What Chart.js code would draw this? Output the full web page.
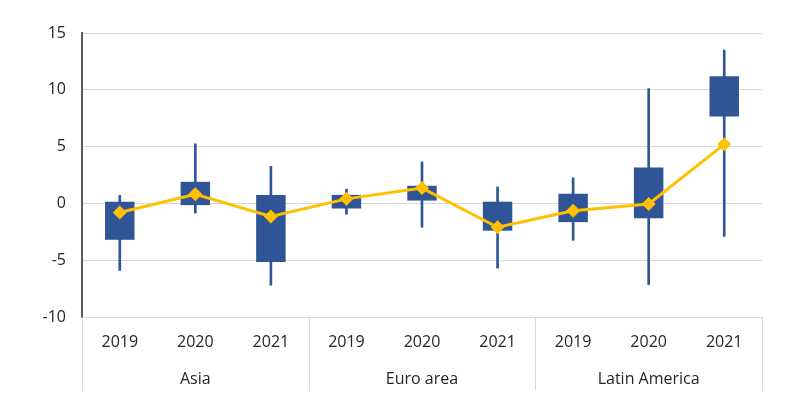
<!DOCTYPE html>
<html>
<head>
<meta charset="utf-8">
<script src="https://cdn.jsdelivr.net/npm/chart.js@4/dist/chart.umd.min.js"></script>
<style>
  html, body { margin: 0; padding: 0; background: #fff; }
  #wrap { width: 787px; height: 398px; position: relative; }
</style>
</head>
<body>
<div id="wrap"><canvas id="c" width="787" height="398"></canvas></div>
<script>
const groups = ['Asia', 'Euro area', 'Latin America'];
const years = ['2019', '2020', '2021'];
const boxLow     = [-3.2, -0.15, -5.15, -0.45, 0.25, -2.4, -1.65, -1.3, 7.65];
const boxHigh    = [0.15, 1.9, 0.75, 0.75, 1.55, 0.15, 0.85, 3.15, 11.2];
const whiskerLow = [-5.9, -0.85, -7.2, -0.95, -2.1, -5.7, -3.25, -7.15, -2.9];
const whiskerHigh= [0.7, 5.25, 3.25, 1.25, 3.65, 1.45, 2.25, 10.1, 13.5];
const median     = [-0.8, 0.8, -1.15, 0.4, 1.35, -2.1, -0.65, -0.05, 5.2];
const yTicks = [-10, -5, 0, 5, 10, 15];

const labels = [];
groups.forEach(() => years.forEach(y => labels.push(y)));

const FONT = '"Open Sans", "Liberation Sans", Arial, sans-serif';
const BLUE = '#2F5597';
const GOLD = '#FFC000';
const GRID = '#D9D9D9';
const TEXT = '#262626';

const groupPlugin = {
  id: 'groupLabels',
  afterDraw(chart) {
    const ctx = chart.ctx;
    const x = chart.scales.x;
    const area = chart.chartArea;
    const n = years.length;
    const step = (x.getPixelForValue(1) - x.getPixelForValue(0));
    ctx.save();
    ctx.strokeStyle = GRID;
    ctx.lineWidth = 1;
    for (let g = 0; g <= groups.length; g++) {
      let px;
      if (g === 0) px = area.left;
      else if (g === groups.length) px = area.right;
      else px = x.getPixelForValue(g * n) - step / 2;
      px = Math.round(px) + 0.5;
      ctx.beginPath();
      ctx.moveTo(px, area.bottom);
      ctx.lineTo(px, area.bottom + 73);
      ctx.stroke();
    }
    ctx.fillStyle = TEXT;
    ctx.font = '16px ' + FONT;
    ctx.textAlign = 'center';
    ctx.textBaseline = 'middle';
    groups.forEach((gname, g) => {
      const cx = x.getPixelForValue(g * n + (n - 1) / 2);
      ctx.fillText(gname, cx, area.bottom + 62);
    });
    ctx.restore();
  }
};

new Chart(document.getElementById('c'), {
  data: {
    labels: labels,
    datasets: [
      {
        type: 'line',
        data: median,
        borderColor: GOLD,
        backgroundColor: GOLD,
        borderWidth: 3,
        pointStyle: 'rectRot',
        pointRadius: 7,
        pointHoverRadius: 7,
        pointBackgroundColor: GOLD,
        pointBorderColor: GOLD,
        pointBorderWidth: 0,
        tension: 0,
        order: 0
      },
      {
        type: 'bar',
        data: boxLow.map((v, i) => [v, boxHigh[i]]),
        backgroundColor: BLUE,
        borderWidth: 0,
        grouped: false,
        categoryPercentage: 1,
        barPercentage: 0.39,
        order: 1
      },
      {
        type: 'bar',
        data: whiskerLow.map((v, i) => [v, whiskerHigh[i]]),
        backgroundColor: BLUE,
        borderWidth: 0,
        grouped: false,
        barThickness: 2,
        order: 2
      }
    ]
  },
  options: {
    responsive: false,
    animation: false,
    devicePixelRatio: 1,
    layout: { padding: { left: 0, top: 33, right: 25, bottom: 0 } },
    plugins: { legend: { display: false }, tooltip: { enabled: false } },
    scales: {
      x: {
        type: 'category',
        offset: true,
        grid: { display: false, drawTicks: false },
        border: { display: false },
        ticks: { color: TEXT, font: { family: FONT, size: 16 }, padding: 16, maxRotation: 0, autoSkip: false },
        afterFit(scale) { scale.height = 81; }
      },
      y: {
        min: -10,
        max: 15,
        afterBuildTicks(scale) { scale.ticks = yTicks.map(v => ({ value: v })); },
        grid: { color: GRID, lineWidth: 1, drawTicks: false },
        border: { display: true, color: '#595959', width: 2 },
        ticks: { color: TEXT, font: { family: FONT, size: 16 }, padding: 16 },
        afterFit(scale) { scale.width = 82; }
      }
    }
  },
  plugins: [groupPlugin]
});
</script>
</body>
</html>
